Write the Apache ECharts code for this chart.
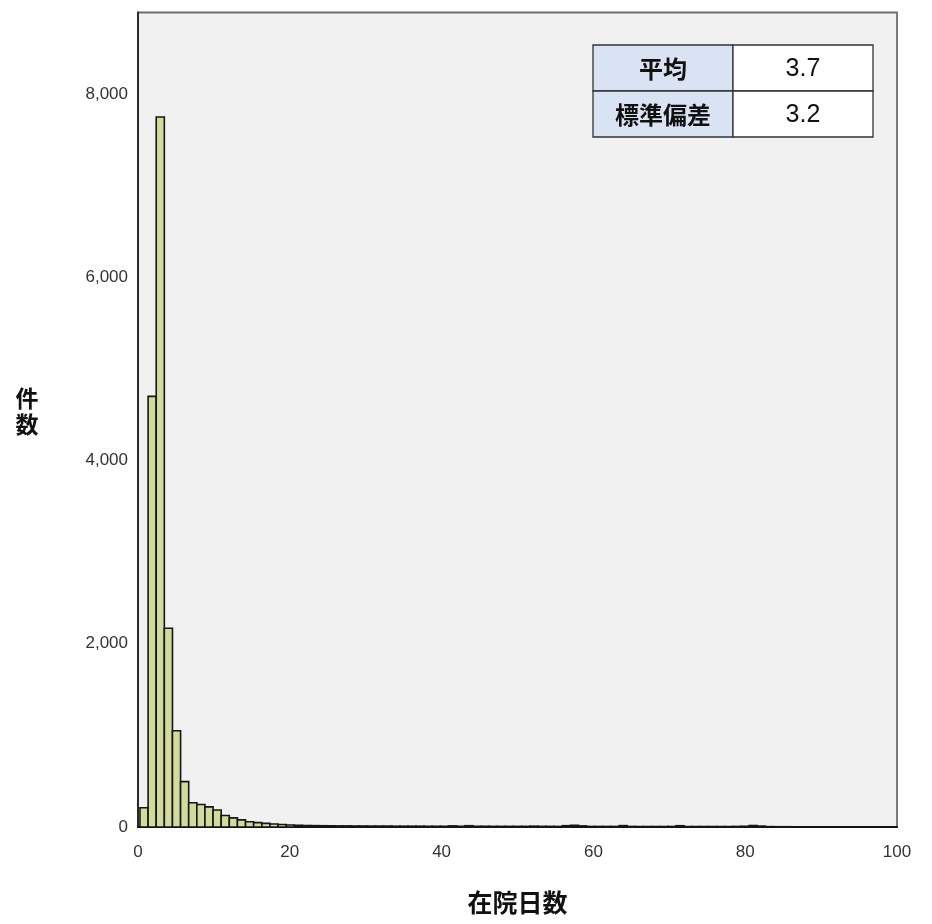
<!DOCTYPE html>
<html><head><meta charset="utf-8">
<script src="https://cdn.jsdelivr.net/npm/echarts@6/dist/echarts.min.js"></script>
<style>html,body{margin:0;padding:0;background:#fff}#c{width:932px;height:924px}</style>
</head><body><div id="c"></div>
<script>
// Histogram of 在院日数 (length of stay)
const binStart = 0.26;
const binWidth = 1.07;
const counts = [210, 4700, 7750, 2170, 1050, 495, 265, 245, 220, 185,
  125, 100, 78, 58, 48, 40, 32, 27, 22, 18,
  16, 15, 14, 13, 12, 12, 11, 11, 10, 10,
  10, 9, 9, 9, 9, 8, 8, 8, 12, 8,
  14, 8, 8, 7, 7, 7, 7, 7, 9, 7,
  7, 6, 14, 18, 12, 6, 6, 6, 6, 15,
  6, 5, 5, 5, 5, 6, 14, 5, 5, 5,
  5, 5, 5, 6, 8, 16, 10, 4, 3, 3];
const xTicks = [0, 20, 40, 60, 80, 100];
const yTicks = [0, 2000, 4000, 6000, 8000];
const statLabels = ['平均', '標準偏差'];
const statValues = ['3.7', '3.2'];
const yAxisTitle = '件\n数';
const xAxisTitle = '在院日数';

const data = counts.map((c, i) => [binStart + i * binWidth, binStart + (i + 1) * binWidth, c]);

const chart = echarts.init(document.getElementById('c'));
const tableX = 593, tableY = 45, colW1 = 140, colW2 = 140, rowH = 46;
const gfx = [];
statLabels.forEach((lab, r) => {
  gfx.push({type:'rect', shape:{x:tableX, y:tableY + r*rowH, width:colW1, height:rowH},
    style:{fill:'#dae3f3', stroke:'#333', lineWidth:1.3}});
  gfx.push({type:'rect', shape:{x:tableX+colW1, y:tableY + r*rowH, width:colW2, height:rowH},
    style:{fill:'#ffffff', stroke:'#333', lineWidth:1.3}});
  gfx.push({type:'text', x:tableX + colW1/2, y:tableY + r*rowH + rowH/2 + 1,
    style:{text:lab, fill:'#111', font:'bold 24px "Noto Sans CJK JP"', align:'center', verticalAlign:'middle'}});
  gfx.push({type:'text', x:tableX + colW1 + colW2/2, y:tableY + r*rowH + rowH/2 + 1,
    style:{text:statValues[r], fill:'#111', font:'25px "Liberation Sans Narrow", "Liberation Sans", Arial', align:'center', verticalAlign:'middle'}});
});
gfx.push({type:'text', x:27, y:411,
  style:{text:yAxisTitle, fill:'#111', font:'bold 23px "Noto Sans CJK JP"', lineHeight:26, align:'center', verticalAlign:'middle'}});

chart.setOption({
  backgroundColor: '#ffffff',
  animation: false,
  grid: {left: 138, right: 35, top: 12.5, bottom: 97, show: true,
    backgroundColor: '#f1f1f1', borderColor: '#6e6e6e', borderWidth: 1.8},
  xAxis: {type: 'value', min: xTicks[0], max: xTicks[xTicks.length-1], interval: 20,
    name: xAxisTitle, nameLocation: 'middle', nameGap: 63,
    nameTextStyle: {fontSize: 25, fontWeight: 'bold', color: '#111', fontFamily: 'Noto Sans CJK JP'},
    axisLine: {show: true, lineStyle: {color: '#111', width: 2}},
    axisTick: {show: false}, splitLine: {show: false},
    axisLabel: {fontSize: 17, color: '#333', margin: 17, fontFamily: 'Liberation Sans'}},
  yAxis: {type: 'value', min: yTicks[0], max: 8890, interval: 2000,
    axisLine: {show: true, lineStyle: {color: '#222', width: 1.8}},
    axisTick: {show: false}, splitLine: {show: false},
    axisLabel: {fontSize: 17, color: '#333', margin: 10, showMaxLabel: false, fontFamily: 'Liberation Sans',
      formatter: v => v.toLocaleString('en-US')}},
  series: [{
    type: 'custom',
    encode: {x: [0, 1], y: 2},
    data: data,
    renderItem: function (params, api) {
      const p0 = api.coord([api.value(0), api.value(2)]);
      const p1 = api.coord([api.value(1), 0]);
      return {type: 'rect', shape: {x: p0[0], y: p0[1], width: p1[0] - p0[0], height: p1[1] - p0[1]},
        style: {fill: '#d3da9e', stroke: '#161616', lineWidth: 1.6}};
    }
  }],
  graphic: gfx
});
</script></body></html>
